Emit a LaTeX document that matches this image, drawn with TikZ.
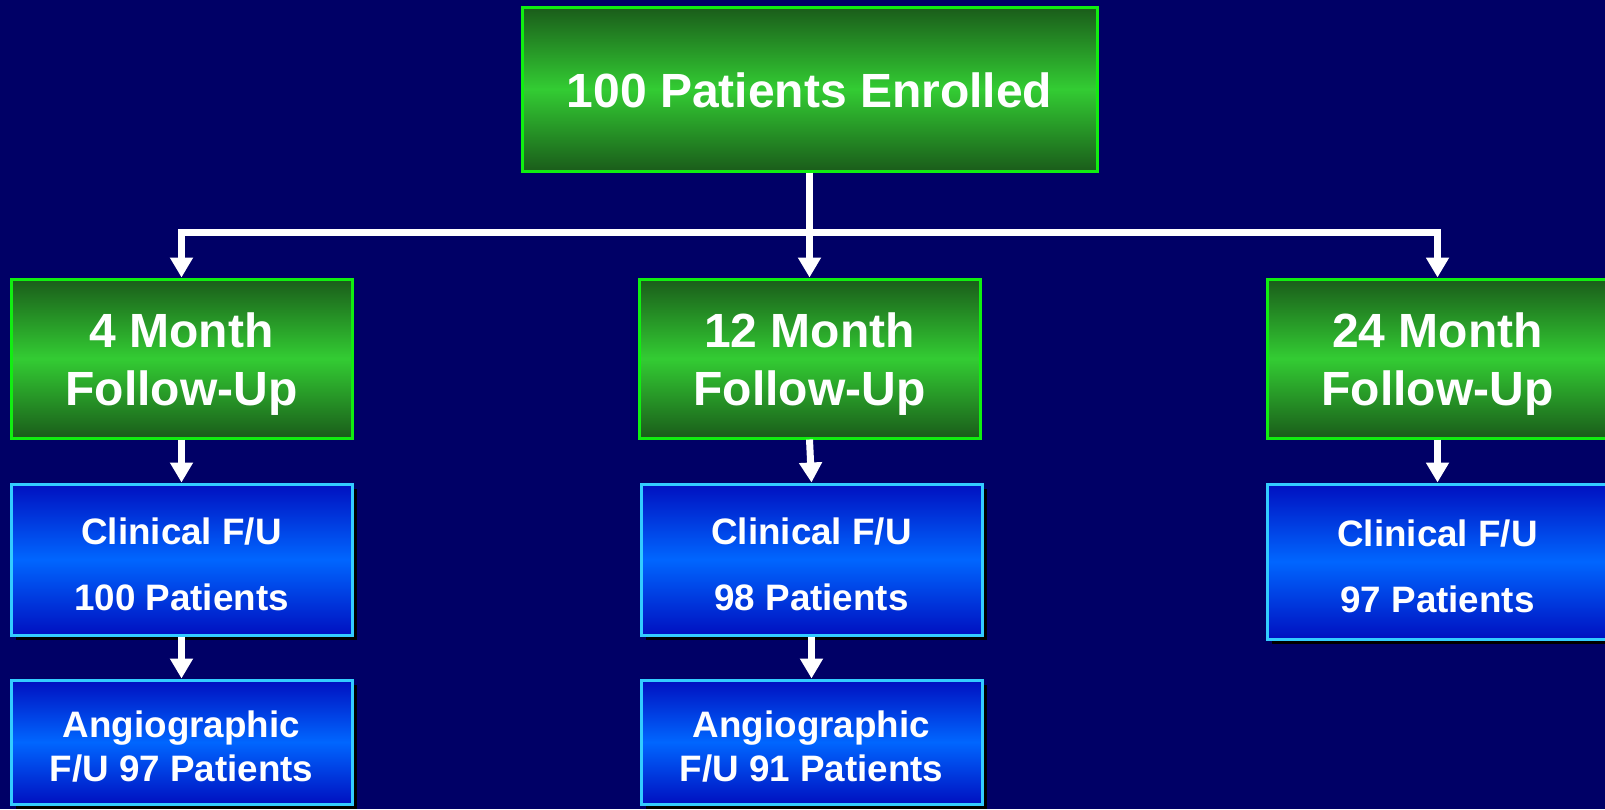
\documentclass[tikz,border=0pt]{standalone}
\usepackage{fontspec}
\setmainfont{Liberation Sans}
\usetikzlibrary{positioning,arrows.meta,shadows}

\definecolor{slidebg}{HTML}{000066}
\definecolor{greendark}{HTML}{1A5C1A}
\definecolor{greenlight}{HTML}{33CC33}
\definecolor{greenline}{HTML}{11EE11}
\definecolor{bluedark}{HTML}{0010C0}
\definecolor{bluelight}{HTML}{0066FF}
\definecolor{blueline}{HTML}{33CCFF}

\newcommand{\padtop}[1][0.97em]{\rule{0pt}{#1}}

\begin{document}
\begin{tikzpicture}[
    x=0.5pt, y=-0.5pt,
    phase/.style={rectangle, draw=greenline, line width=1.5pt, top color=greendark, bottom color=greendark, middle color=greenlight, text=white, align=center, font=\bfseries\fontsize{24}{29}\selectfont, minimum width=170.5pt, minimum height=79.5pt},
    result/.style={rectangle, draw=blueline, line width=1.5pt, top color=bluedark, bottom color=bluedark, middle color=bluelight, text=white, align=center, font=\bfseries\fontsize{18.4}{33}\selectfont, minimum width=170.5pt, minimum height=75.5pt, drop shadow={shadow xshift=2.5pt, shadow yshift=-2.5pt, fill=black, opacity=1}},
    conn/.style={draw=white, line width=3.5pt, -{Triangle[width=11pt,length=10pt]}},
]

\useasboundingbox (0,0) rectangle (1605,809);
\fill[slidebg] (0,0) rectangle (1605,809);

\node[phase, minimum width=287.5pt, minimum height=82pt] (enrolled) at (809.5,89) {\padtop[0.8em]100 Patients Enrolled};

\node[phase] (fu4) at (181.5,358.5) {\padtop 4 Month\\Follow-Up};
\node[phase] (fu12) at (809.5,358.5) {\padtop 12 Month\\Follow-Up};
\node[phase] (fu24) at (1437.5,358.5) {\padtop 24 Month\\Follow-Up};

\node[result] (clin4) at (181.5,559.5) {\padtop Clinical F/U\\100 Patients};
\node[result] (clin12) at (811.5,559.5) {\padtop Clinical F/U\\98 Patients};
\node[result, minimum height=77.5pt] (clin24) at (1437.5,561.5) {\padtop Clinical F/U\\97 Patients};

\node[result, minimum height=62pt, font=\bfseries\fontsize{18.4}{22}\selectfont] (angio4) at (181.5,742) {\padtop Angiographic\\F/U 97 Patients};
\node[result, minimum height=62pt, font=\bfseries\fontsize{18.4}{22}\selectfont] (angio12) at (811.5,742) {\padtop Angiographic\\F/U 91 Patients};

% split bar
\coordinate (bar) at (809.5,232);
\draw[conn] (enrolled.south) -- (fu12.north);
\draw[conn] (bar) -| (fu4.north);
\draw[conn] (bar) -| (fu24.north);

\draw[conn] (fu4) -- (clin4);
\draw[conn] (fu12.south) -- (clin12.north);
\draw[conn] (fu24) -- (clin24);
\draw[conn] (clin4) -- (angio4);
\draw[conn] (clin12) -- (angio12);

\end{tikzpicture}
\end{document}
